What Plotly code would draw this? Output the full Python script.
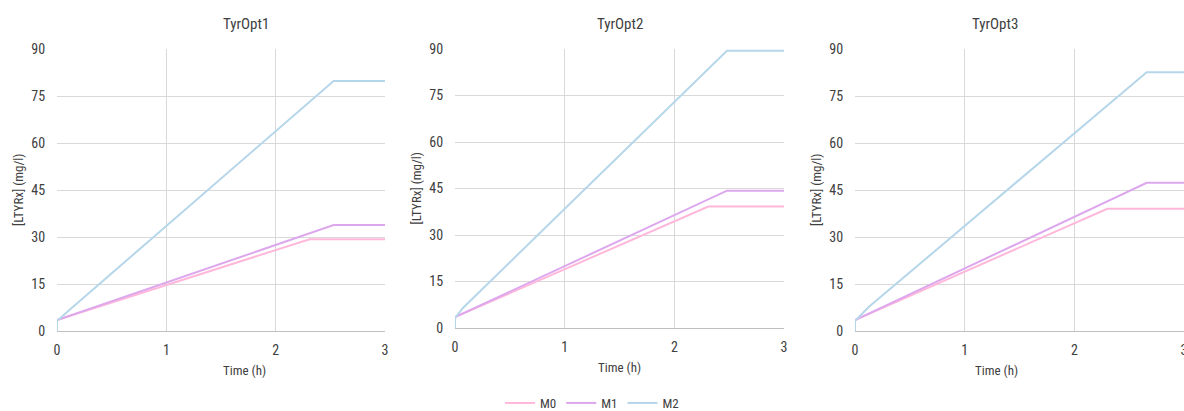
import plotly.graph_objects as go

# ---- data ----
panel_titles = ["TyrOpt1", "TyrOpt2", "TyrOpt3"]
series_names = ["M0", "M1", "M2"]

p1_M0_t = [0, 0, 2.31, 3]
p1_M0_y = [0, 3.5, 29.3, 29.3]
p1_M1_t = [0, 0, 2.53, 3]
p1_M1_y = [0, 3.5, 33.8, 33.8]
p1_M2_t = [0, 0, 0.10, 2.53, 3]
p1_M2_y = [0, 3.2, 6.3, 79.8, 79.8]

p2_M0_t = [0, 0, 2.31, 3]
p2_M0_y = [0, 3.5, 39.2, 39.2]
p2_M1_t = [0, 0, 2.48, 3]
p2_M1_y = [0, 3.5, 44.3, 44.3]
p2_M2_t = [0, 0, 0.07, 2.48, 3]
p2_M2_y = [0, 3.2, 6.4, 89.4, 89.4]

p3_M0_t = [0, 0, 2.30, 3]
p3_M0_y = [0, 3.5, 39.0, 39.0]
p3_M1_t = [0, 0, 2.66, 3]
p3_M1_y = [0, 3.5, 47.3, 47.3]
p3_M2_t = [0, 0, 0.13, 2.66, 3]
p3_M2_y = [0, 3.2, 7.8, 82.6, 82.6]

y_ticks = [0, 15, 30, 45, 60, 75, 90]
x_ticks = [0, 1, 2, 3]

colors = {"M0": "#FFB7DA", "M1": "#DDA7EE", "M2": "#B6D6EA"}

panels = [
    {"M0": (p1_M0_t, p1_M0_y), "M1": (p1_M1_t, p1_M1_y), "M2": (p1_M2_t, p1_M2_y)},
    {"M0": (p2_M0_t, p2_M0_y), "M1": (p2_M1_t, p2_M1_y), "M2": (p2_M2_t, p2_M2_y)},
    {"M0": (p3_M0_t, p3_M0_y), "M1": (p3_M1_t, p3_M1_y), "M2": (p3_M2_t, p3_M2_y)},
]

W, H = 1184, 411
# pixel layout of plot areas: (x0, x1, ytop, ybottom)
boxes = [(57, 385, 49, 331), (455, 784, 49, 328), (855, 1184, 49, 331)]

FONT = "Liberation Sans Narrow, Roboto Condensed, Liberation Sans, Arial, sans-serif"
TXT = "#404040"

fig = go.Figure()
for i, pdata in enumerate(panels):
    ax = "" if i == 0 else str(i + 1)
    for name in series_names:
        t, y = pdata[name]
        fig.add_trace(go.Scatter(
            x=t, y=y, mode="lines", name=name,
            line=dict(color=colors[name], width=2),
            xaxis="x" + ax, yaxis="y" + ax,
            showlegend=(i == 0), legendgroup=name,
        ))

annotations = []
for i, (x0, x1, yt, yb) in enumerate(boxes):
    ax = "" if i == 0 else str(i + 1)
    xd = [x0 / W, min(x1 / W, 1.0)]
    yd = [1 - yb / H, 1 - yt / H]
    fig.layout["xaxis" + ax] = dict(
        domain=xd, range=[0, 3], tickvals=x_ticks, showgrid=True,
        gridcolor="#D9D9D9", gridwidth=1, zeroline=False,
        showline=True, linecolor="#BFBFBF", linewidth=1,
        ticks="outside", ticklen=6, tickcolor="rgba(0,0,0,0)",
        tickfont=dict(family=FONT, size=14, color=TXT),
        ticklabeloverflow="allow",
        anchor="y" + ax, fixedrange=True, automargin=False,
    )
    fig.layout["yaxis" + ax] = dict(
        domain=yd, range=[0, 90], tickvals=y_ticks, showgrid=True,
        gridcolor="#D9D9D9", gridwidth=1, zeroline=False,
        showline=False,
        ticks="outside", ticklen=8, tickcolor="rgba(0,0,0,0)",
        tickfont=dict(family=FONT, size=14, color=TXT),
        anchor="x" + ax, fixedrange=True, automargin=False,
    )
    cx = (x0 + x1) / 2 / W
    annotations.append(dict(text=panel_titles[i], x=cx,
                            y=1 - 24 / H, xref="paper", yref="paper", showarrow=False,
                            yanchor="middle",
                            font=dict(family=FONT, size=15, color=TXT)))
    annotations.append(dict(text="Time (h)", x=cx, y=1 - (yb + 39) / H,
                            xref="paper", yref="paper", showarrow=False, yanchor="middle",
                            font=dict(family=FONT, size=13, color=TXT)))
    annotations.append(dict(text="[LTYRx] (mg/l)", x=(x0 - 39) / W, y=1 - (yt + yb) / 2 / H,
                            xref="paper", yref="paper", showarrow=False, textangle=-90,
                            xanchor="center", yanchor="middle",
                            font=dict(family=FONT, size=13, color=TXT)))

fig.update_layout(
    width=W, height=H,
    margin=dict(l=0, r=0, t=0, b=0, autoexpand=False),
    paper_bgcolor="white", plot_bgcolor="white",
    annotations=annotations,
    showlegend=True,
    legend=dict(orientation="h", x=0.5, xanchor="center", y=1 - 403 / H, yanchor="middle",
                font=dict(family=FONT, size=13, color=TXT), bgcolor="rgba(0,0,0,0)"),
)

fig.write_html("out.html")
